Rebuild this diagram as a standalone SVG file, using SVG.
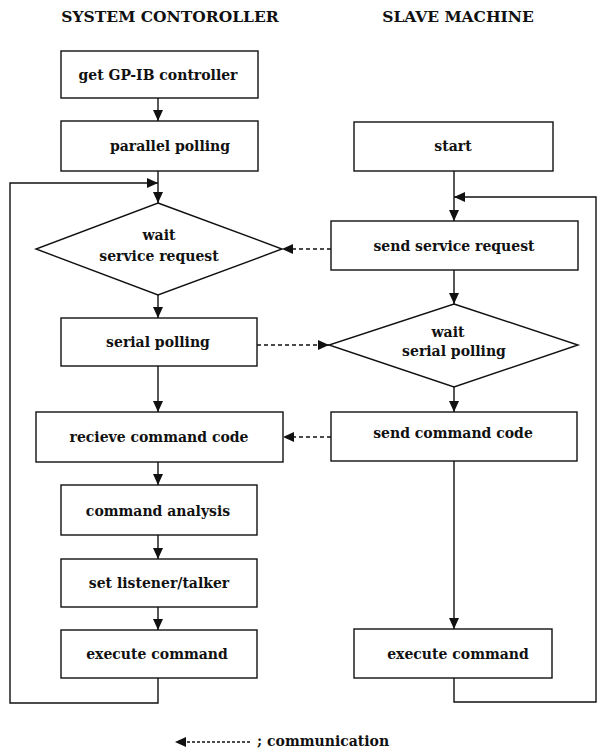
<svg xmlns="http://www.w3.org/2000/svg" width="597" height="753" viewBox="0 0 597 753">
  <style>
    .box { fill: #fff; stroke: #111; stroke-width: 1.4; }
    .lbl { font-family: "DejaVu Serif", "Liberation Serif", serif; font-weight: bold; font-size: 14px; fill: #111; text-anchor: middle; }
    .hdr { font-family: "DejaVu Serif", "Liberation Serif", serif; font-weight: bold; font-size: 15.5px; fill: #111; text-anchor: middle; }
    .flow { fill: none; stroke: #111; stroke-width: 1.4; }
    .comm { fill: none; stroke: #111; stroke-width: 1.3; stroke-dasharray: 4 3; }
  </style>
  <defs>
    <marker id="ah" markerUnits="userSpaceOnUse" markerWidth="12" markerHeight="10" refX="11" refY="5" orient="auto">
      <path d="M0,0 L11,5 L0,10 Z" fill="#111"/>
    </marker>
  </defs>

  <!-- column headings -->
  <text class="hdr" x="170" y="22">SYSTEM CONTOROLLER</text>
  <text class="hdr" x="458" y="22">SLAVE MACHINE</text>

  <!-- system controller side -->
  <g id="get-controller">
    <rect class="box" x="61" y="51" width="197" height="47"/>
    <text class="lbl" x="158" y="80">get GP-IB controller</text>
  </g>
  <g id="parallel-polling">
    <rect class="box" x="61" y="121" width="197" height="50"/>
    <text class="lbl" x="170" y="151">parallel polling</text>
  </g>
  <g id="wait-service-request">
    <polygon class="box" points="158,203 282,249 158,295 36,249"/>
    <text class="lbl" x="159" y="240">wait</text>
    <text class="lbl" x="159" y="261">service request</text>
  </g>
  <g id="serial-polling">
    <rect class="box" x="61" y="318" width="196" height="48"/>
    <text class="lbl" x="158" y="347">serial polling</text>
  </g>
  <g id="recieve-command-code">
    <rect class="box" x="36" y="412" width="247" height="50"/>
    <text class="lbl" x="159" y="442">recieve command code</text>
  </g>
  <g id="command-analysis">
    <rect class="box" x="61" y="485" width="196" height="50"/>
    <text class="lbl" x="158" y="516">command analysis</text>
  </g>
  <g id="set-listener-talker">
    <rect class="box" x="61" y="559" width="196" height="48"/>
    <text class="lbl" x="159" y="588">set listener/talker</text>
  </g>
  <g id="execute-command-ctrl">
    <rect class="box" x="61" y="630" width="196" height="48"/>
    <text class="lbl" x="157" y="659">execute command</text>
  </g>

  <!-- slave machine side -->
  <g id="start">
    <rect class="box" x="354" y="122" width="199" height="49"/>
    <text class="lbl" x="453" y="151">start</text>
  </g>
  <g id="send-service-request">
    <rect class="box" x="331" y="221" width="247" height="49"/>
    <text class="lbl" x="454" y="251">send service request</text>
  </g>
  <g id="wait-serial-polling">
    <polygon class="box" points="454,304 578,345 454,387 329,345"/>
    <text class="lbl" x="448" y="337">wait</text>
    <text class="lbl" x="454" y="356">serial polling</text>
  </g>
  <g id="send-command-code">
    <rect class="box" x="331" y="412" width="246" height="49"/>
    <text class="lbl" x="453" y="438">send command code</text>
  </g>
  <g id="execute-command-slave">
    <rect class="box" x="354" y="629" width="198" height="49"/>
    <text class="lbl" x="458" y="659">execute command</text>
  </g>

  <!-- connectors -->
  <g id="connectors">
    <line class="flow" x1="158" y1="98" x2="158" y2="121" marker-end="url(#ah)"/>
    <line class="flow" x1="158" y1="171" x2="158" y2="203" marker-end="url(#ah)"/>
    <polyline class="flow" points="158,678 158,703 10,703 10,183 158,183" marker-end="url(#ah)"/>
    <line class="flow" x1="158" y1="295" x2="158" y2="318" marker-end="url(#ah)"/>
    <line class="flow" x1="158" y1="366" x2="158" y2="412" marker-end="url(#ah)"/>
    <line class="flow" x1="158" y1="462" x2="158" y2="485" marker-end="url(#ah)"/>
    <line class="flow" x1="158" y1="535" x2="158" y2="559" marker-end="url(#ah)"/>
    <line class="flow" x1="158" y1="607" x2="158" y2="630" marker-end="url(#ah)"/>

    <line class="flow" x1="454" y1="171" x2="454" y2="221" marker-end="url(#ah)"/>
    <polyline class="flow" points="454,678 454,702 596,702 596,197 454,197" marker-end="url(#ah)"/>
    <line class="flow" x1="454" y1="270" x2="454" y2="304" marker-end="url(#ah)"/>
    <line class="flow" x1="454" y1="387" x2="454" y2="412" marker-end="url(#ah)"/>
    <line class="flow" x1="454" y1="461" x2="454" y2="629" marker-end="url(#ah)"/>

    <line class="comm" x1="331" y1="249" x2="282" y2="249" marker-end="url(#ah)"/>
    <line class="comm" x1="257" y1="345" x2="329" y2="345" marker-end="url(#ah)"/>
    <line class="comm" x1="331" y1="437" x2="283" y2="437" marker-end="url(#ah)"/>
  </g>

  <!-- legend -->
  <g id="legend">
    <line x1="250" y1="742" x2="175" y2="742" stroke="#111" stroke-width="1.3" stroke-dasharray="3 2" marker-end="url(#ah)"/>
    <text class="lbl" x="257" y="746" style="text-anchor:start">; communication</text>
  </g>
</svg>
